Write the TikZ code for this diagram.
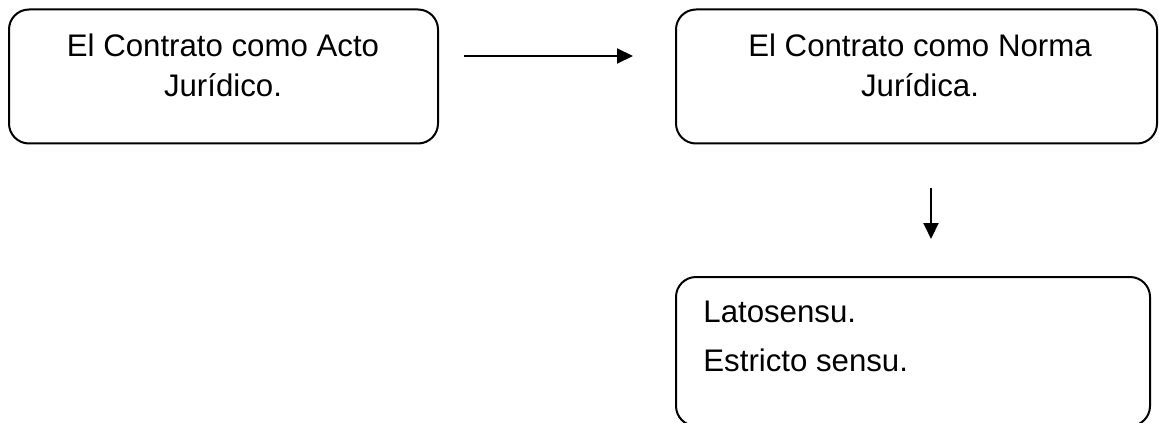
\documentclass[tikz,border=0pt]{standalone}
\usepackage{fontspec}
\setmainfont{Liberation Sans}
\usetikzlibrary{arrows.meta}

\begin{document}
\begin{tikzpicture}[x=0.5pt,y=-0.5pt]
		
		% Estilos
		\tikzset{
			caja/.style={
				draw,
				line width=1pt,
				rounded corners=10pt,
				inner sep=0pt
			},
			texto/.style={
				inner sep=0pt,
				font=\fontsize{15.6}{20}\selectfont
			},
			flecha/.style={
				line width=1pt,
				-{Triangle[length=8pt,width=7.5pt]}
			}
		}
		
		\useasboundingbox (0,0) rectangle (1159,422);
		
		% Cajas
		\node[caja, minimum width=214.5pt, minimum height=67pt] (A) at (223.5,76.5) {};
		\node[caja, minimum width=240.5pt, minimum height=67pt] (B) at (916.5,76.5) {};
		\node[caja, minimum width=237pt, minimum height=74.5pt] (C) at (913,351.5) {};
		
		% Textos
		\node[texto, align=center, anchor=north] (tA) at (223,33) {El Contrato como Acto\\Jurídico.};
		\node[texto, align=center, anchor=north] (tB) at (920,33) {El Contrato como Norma\\Jurídica.};
		\node[texto, align=left, anchor=north west, font=\fontsize{15.6}{24.5}\selectfont] (tC) at (703,301) {Latosensu.\\Estricto sensu.};
		
		% Flechas
		\draw[flecha] ([xshift=12.5pt,yshift=10.25pt]A.east) -- ([xshift=-21pt,yshift=10.25pt]B.west);
		\draw[flecha] ([xshift=7.25pt,yshift=-21.5pt]B.south) -- ([xshift=9pt,yshift=18.5pt]C.north);
		
	\end{tikzpicture}
\end{document}
